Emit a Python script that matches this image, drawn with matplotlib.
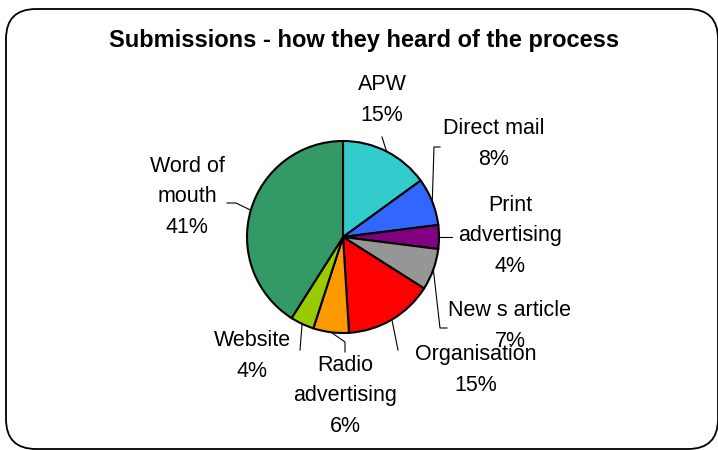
import numpy as np
import matplotlib.pyplot as plt
from matplotlib.patches import FancyBboxPatch

# ============================================================
# DATA
# ============================================================

CATEGORIES = ["APW", "Direct mail", "Print\nadvertising", "New s article",
              "Organisation", "Radio\nadvertising", "Website", "Word of\nmouth"]
PERCENTS = [15, 8, 4, 7, 15, 6, 4, 41]
COLORS = ["#33CCCC", "#3366FF", "#800080", "#969696",
          "#FF0000", "#FF9900", "#99CC00", "#339966"]

TITLE = "Submissions - how they heard of the process"

# ============================================================
# LAYOUT (pixel coords, y measured from top)
# ============================================================

W, H = 718, 450
CENTER = (343, 237)
RADIUS = 96

# label text centre and leader line bend points (from pie edge outwards)
LABEL_POS = [(382, 100), (494, 144), (510, 236), (510, 326),
             (476, 370), (345, 396), (252, 356), (187, 197)]
LEADERS = [
    [(382, 137)],
    [(434, 147), (440, 147)],
    [(452, 237)],
    [(440, 328), (447, 328)],
    [(398, 350)],
    [(345, 342), (345, 352)],
    [(300, 350)],
    [(236, 203), (227, 203)],
]

plt.rcParams['font.family'] = ['Liberation Sans', 'DejaVu Sans']

fig = plt.figure(figsize=(W / 100, H / 100), dpi=100)
ax = fig.add_axes([0, 0, 1, 1])

# rounded frame
frame = FancyBboxPatch((6, 1), 712, 440, boxstyle="round,pad=0,rounding_size=30",
                       fc='white', ec='black', lw=1.3, zorder=0)
ax.add_patch(frame)

cx, cy = CENTER[0], H - CENTER[1]
wedges, _ = ax.pie(PERCENTS, colors=COLORS, startangle=90, counterclock=False,
                   center=(cx, cy), radius=RADIUS, frame=True,
                   wedgeprops=dict(edgecolor='black', linewidth=1.5))
ax.set_xlim(0, W)
ax.set_ylim(0, H)
ax.set_aspect('equal')
ax.axis('off')

# labels and leader lines
cum = np.cumsum([0] + PERCENTS[:-1])
for i, (cat, pct) in enumerate(zip(CATEGORIES, PERCENTS)):
    mid = (cum[i] + pct / 2) / sum(PERCENTS) * 2 * np.pi
    ex = cx + RADIUS * np.sin(mid)
    ey = cy + RADIUS * np.cos(mid)
    xs = [ex] + [p[0] for p in LEADERS[i]]
    ys = [ey] + [H - p[1] for p in LEADERS[i]]
    ax.plot(xs, ys, color='black', lw=0.8, zorder=5)

    lx, ly = LABEL_POS[i]
    ax.text(lx, H - ly, f"{cat}\n{pct}%", ha='center', va='center',
            fontsize=15.5, linespacing=1.6, zorder=6)

ax.text(364, H - 40, TITLE, ha='center', va='center', fontsize=17,
        fontweight='bold')

fig.savefig("out.png", dpi=100)
